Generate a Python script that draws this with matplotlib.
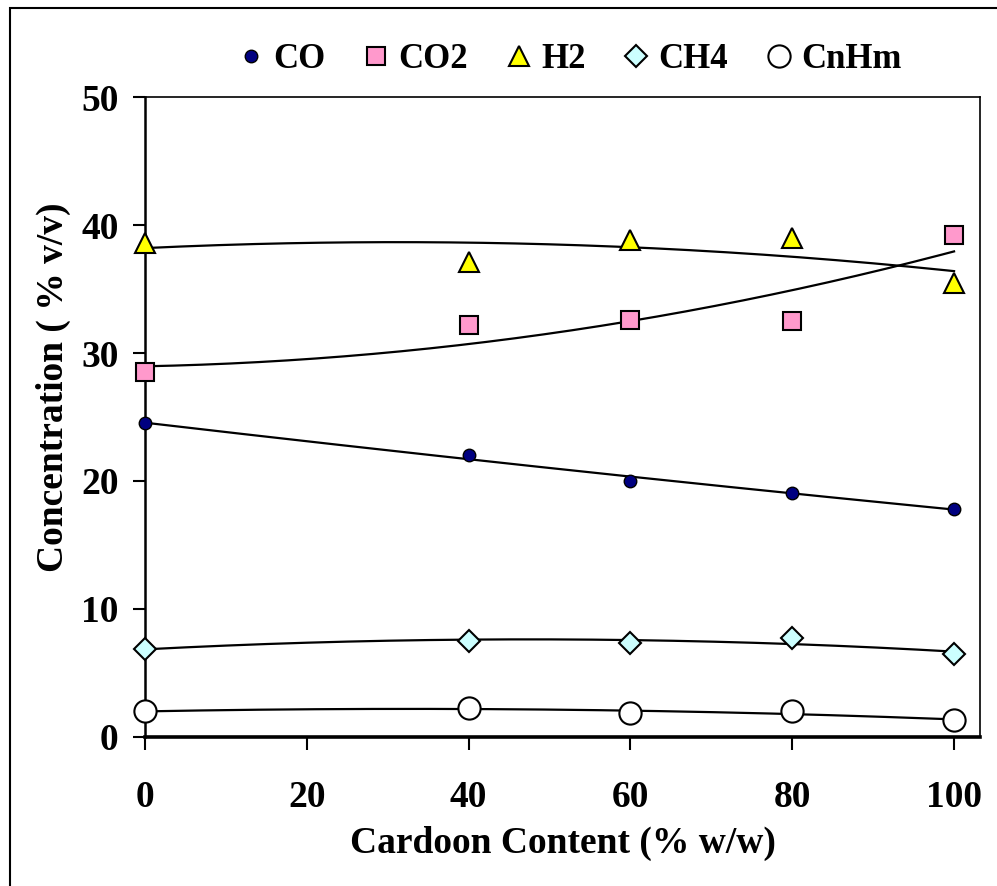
import numpy as np
import matplotlib.pyplot as plt
from matplotlib.lines import Line2D
from matplotlib.patches import Rectangle

plt.rcParams['font.family'] = ['Liberation Serif', 'DejaVu Serif']
plt.rcParams['font.weight'] = 'bold'

# data
cardoon = [0, 40, 60, 80, 100]
co = [24.5, 22.0, 20.0, 19.1, 17.8]
co2 = [28.5, 32.2, 32.6, 32.5, 39.2]
h2 = [38.6, 37.1, 38.8, 39.0, 35.5]
ch4 = [6.9, 7.5, 7.35, 7.75, 6.45]
cnhm = [2.0, 2.25, 1.85, 2.0, 1.3]

series = [
    ('CO', co, dict(marker='o', ms=9, mfc='#000080', mec='black', mew=1.0)),
    ('CO2', co2, dict(marker='s', ms=13, mfc='#FF99CC', mec='black', mew=1.5)),
    ('H2', h2, dict(marker='^', ms=14, mfc='#FFFF00', mec='black', mew=1.5)),
    ('CH4', ch4, dict(marker='D', ms=11, mfc='#CCFFFF', mec='black', mew=1.5)),
    ('CnHm', cnhm, dict(marker='o', ms=16, mfc='white', mec='black', mew=1.5)),
]

fig = plt.figure(figsize=(9.97, 8.86), dpi=100)
ax = fig.add_axes([0.1454, 0.1682, 0.9829 - 0.1454, 0.8905 - 0.1682])

# outer border like the Excel chart area
fig.patches.append(Rectangle((0.010, -0.01), 1.2, 0.9999 - 0.009 + 0.01,
                             transform=fig.transFigure, fill=False,
                             edgecolor='black', lw=1.5))

xs = np.linspace(0, 100, 200)
handles = []
for name, vals, st in series:
    # 2nd order trendline through the points
    c = np.polyfit(cardoon, vals, 2)
    ax.plot(xs, np.polyval(c, xs), color='black', lw=1.6, zorder=2)
    ax.plot(cardoon, vals, ls='none', zorder=3, clip_on=False, **st)
    handles.append(Line2D([], [], ls='none', label=name, **st))

ax.set_xlim(0, 103.2)
ax.set_ylim(0, 50)
ax.set_xticks([0, 20, 40, 60, 80, 100])
ax.set_yticks([0, 10, 20, 30, 40, 50])

for s in ['top', 'right']:
    ax.spines[s].set_linewidth(1.2)
ax.spines['left'].set_linewidth(1.8)
ax.spines['bottom'].set_linewidth(2.6)

ax.tick_params(axis='x', direction='out', length=9, width=1.5, pad=22, labelsize=27)
ax.tick_params(axis='y', direction='out', length=9, width=1.5, pad=10, labelsize=27)
for lab in ax.get_xticklabels() + ax.get_yticklabels():
    lab.set_fontweight('bold')

ax.set_xlabel('Cardoon Content (% w/w)', fontsize=27, fontweight='bold', labelpad=8)
ax.set_ylabel('Concentration ( % v/v)', fontsize=27, fontweight='bold')
ax.yaxis.set_label_coords(-0.088, 0.546)

fig.legend(handles=handles, loc='center', bbox_to_anchor=(0.571, 0.933), ncol=5,
           frameon=False, prop={'weight': 'bold', 'size': 25},
           handlelength=0.8, handletextpad=0.25, columnspacing=1.05, markerscale=1.0)

fig.savefig('out.png', dpi=100)
